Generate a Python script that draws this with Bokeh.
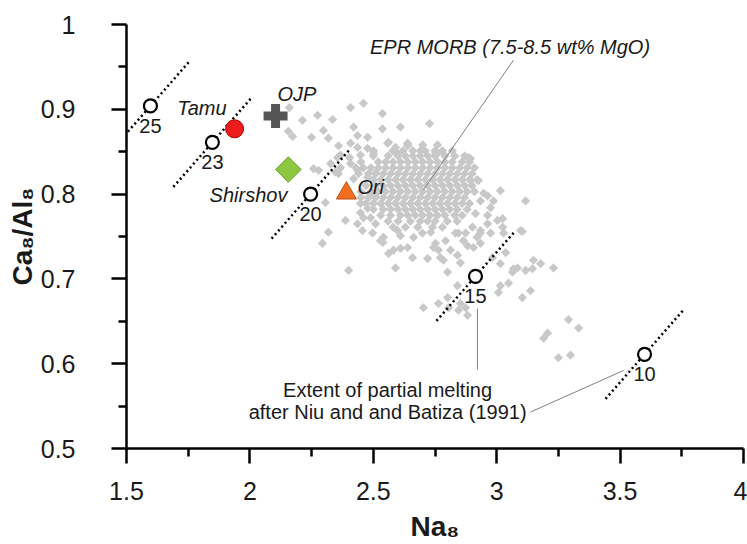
import numpy as np
from bokeh.plotting import figure
from bokeh.models import Range1d, FixedTicker, NumeralTickFormatter, Label
from bokeh.core.properties import value
from bokeh.embed import file_html
from bokeh.resources import INLINE

FONT = "Liberation Sans"

# ---------------- data ----------------
x_ticks = [1.5, 2.0, 2.5, 3.0, 3.5, 4.0]
x_minor = [1.75, 2.25, 2.75, 3.25, 3.75]
y_ticks = [0.5, 0.6, 0.7, 0.8, 0.9, 1.0]
y_minor = [0.55, 0.65, 0.75, 0.85, 0.95]

# EPR MORB cloud: dense core, row by row (Ca8/Al8 level, Na8 values)
core_y_levels = [0.858, 0.851, 0.845, 0.838, 0.831, 0.824, 0.817, 0.810, 0.803,
                 0.796, 0.789, 0.782, 0.775, 0.768, 0.761]
core_x_rows = [
    [2.64, 2.70, 2.76],
    [2.58, 2.62, 2.66, 2.69, 2.71, 2.75, 2.78, 2.82],
    [2.50, 2.56, 2.60, 2.63, 2.66, 2.69, 2.72, 2.75, 2.79, 2.83, 2.87],
    [2.45, 2.52, 2.55, 2.58, 2.61, 2.64, 2.67, 2.70, 2.73, 2.76, 2.79, 2.82, 2.86, 2.89],
    [2.43, 2.49, 2.52, 2.55, 2.58, 2.61, 2.64, 2.67, 2.70, 2.73, 2.76, 2.79, 2.82, 2.85, 2.88, 2.91],
    [2.44, 2.48, 2.51, 2.54, 2.57, 2.60, 2.63, 2.66, 2.69, 2.72, 2.75, 2.78, 2.81, 2.84, 2.87, 2.90],
    [2.50, 2.53, 2.56, 2.59, 2.62, 2.65, 2.68, 2.71, 2.74, 2.77, 2.80, 2.83, 2.86, 2.89, 2.92],
    [2.47, 2.51, 2.54, 2.57, 2.60, 2.63, 2.66, 2.69, 2.72, 2.75, 2.78, 2.81, 2.84, 2.87, 2.90],
    [2.45, 2.49, 2.52, 2.55, 2.58, 2.61, 2.64, 2.67, 2.70, 2.73, 2.76, 2.79, 2.82, 2.85, 2.88, 2.91],
    [2.45, 2.48, 2.51, 2.54, 2.57, 2.60, 2.63, 2.66, 2.69, 2.72, 2.75, 2.78, 2.81, 2.84, 2.87],
    [2.47, 2.50, 2.53, 2.56, 2.59, 2.62, 2.65, 2.68, 2.71, 2.74, 2.77, 2.80, 2.83, 2.86, 2.89],
    [2.50, 2.54, 2.57, 2.60, 2.63, 2.66, 2.69, 2.72, 2.75, 2.78, 2.81, 2.84, 2.88],
    [2.53, 2.57, 2.61, 2.64, 2.67, 2.70, 2.73, 2.76, 2.79, 2.83, 2.86],
    [2.56, 2.60, 2.65, 2.69, 2.72, 2.75, 2.80, 2.84],
    [2.58, 2.63, 2.68, 2.74, 2.78],
]

# EPR MORB cloud: scattered points around the core
sparse_x = [2.160, 2.213, 2.274, 2.335, 2.408, 2.460, 2.156, 2.173, 2.250, 2.298,
            2.318, 2.359, 2.420, 2.436, 2.477, 2.367, 2.404, 2.436, 2.448, 2.477,
            2.501, 2.258, 2.278, 2.327, 2.367, 2.408, 2.436, 2.460, 2.359, 2.420,
            2.477, 2.509, 2.537, 2.610, 2.728, 2.537, 2.562, 2.590, 2.639, 2.598,
            2.752, 2.886, 2.894, 2.926, 3.015, 3.117, 2.947, 2.975, 3.003, 3.024,
            3.097, 2.975, 2.914, 2.934, 2.845, 2.882, 2.841, 2.772, 2.744, 2.720,
            2.659, 2.610, 2.562, 2.590, 3.149, 3.084, 3.117, 3.230, 2.983, 3.015,
            2.541, 2.582, 2.639, 2.663, 2.784, 2.764, 2.752, 2.793, 2.813, 2.853,
            2.906, 2.934, 2.920, 2.963, 2.963, 2.801, 2.539, 2.598, 2.610, 2.699,
            2.733, 2.833, 2.874, 2.902, 2.934, 2.963, 2.934, 3.024, 3.028, 3.104,
            3.036, 3.068, 3.145, 3.178, 2.841, 2.764, 2.801, 2.853, 2.874, 2.882,
            2.845, 2.805, 2.703, 3.015, 3.048, 3.007, 3.064, 3.104, 3.137, 3.291,
            3.206, 3.190, 3.332, 3.250, 3.299, 2.306, 2.318, 2.294, 2.400, 2.387,
            2.436, 2.448, 2.477, 2.501, 2.489, 2.509, 2.501, 2.481, 2.448, 2.347,
            2.460, 2.456, 2.497, 2.529, 2.355, 2.408, 2.501, 2.558, 2.639, 2.760,
            2.894, 2.987, 2.865]
sparse_y = [0.902, 0.887, 0.893, 0.888, 0.902, 0.907, 0.874, 0.868, 0.867, 0.875,
            0.866, 0.857, 0.879, 0.869, 0.867, 0.846, 0.843, 0.855, 0.846, 0.854,
            0.848, 0.830, 0.828, 0.836, 0.831, 0.836, 0.828, 0.831, 0.824, 0.818,
            0.820, 0.825, 0.895, 0.879, 0.883, 0.877, 0.861, 0.855, 0.860, 0.848,
            0.848, 0.843, 0.816, 0.816, 0.804, 0.792, 0.801, 0.784, 0.769, 0.761,
            0.757, 0.754, 0.777, 0.754, 0.754, 0.739, 0.728, 0.725, 0.737, 0.724,
            0.725, 0.736, 0.730, 0.713, 0.722, 0.713, 0.710, 0.713, 0.725, 0.718,
            0.749, 0.734, 0.737, 0.749, 0.722, 0.734, 0.742, 0.745, 0.734, 0.719,
            0.737, 0.742, 0.749, 0.765, 0.775, 0.708, 0.743, 0.757, 0.751, 0.754,
            0.755, 0.754, 0.754, 0.761, 0.757, 0.798, 0.792, 0.771, 0.754, 0.756,
            0.731, 0.712, 0.712, 0.718, 0.692, 0.671, 0.678, 0.671, 0.666, 0.657,
            0.663, 0.666, 0.666, 0.692, 0.695, 0.684, 0.708, 0.678, 0.686, 0.652,
            0.636, 0.630, 0.642, 0.607, 0.610, 0.790, 0.755, 0.742, 0.710, 0.769,
            0.765, 0.778, 0.783, 0.789, 0.772, 0.765, 0.801, 0.796, 0.789, 0.826,
            0.772, 0.757, 0.754, 0.745, 0.843, 0.860, 0.851, 0.860, 0.857, 0.848,
            0.842, 0.792, 0.745]

# Extent of partial melting (Niu & Batiza 1991)
melt_labels = ["25", "23", "20", "15", "10"]
melt_x = [1.597, 1.848, 2.246, 2.914, 3.599]
melt_y = [0.904, 0.861, 0.800, 0.703, 0.611]
melt_half_dx = 0.158
melt_slope = 0.332

# Plateau samples
site_names = ["Tamu", "OJP", "Shirshov", "Ori"]
site_x = [1.938, 2.104, 2.156, 2.391]
site_y = [0.877, 0.892, 0.829, 0.801]

# ---------------- figure ----------------
p = figure(width=747, height=544, output_backend="svg", toolbar_location=None,
           x_range=Range1d(1.5, 4.0), y_range=Range1d(0.5, 1.0),
           min_border_left=126, min_border_right=4, min_border_top=24,
           min_border_bottom=96)
p.outline_line_color = None
p.grid.visible = False
p.background_fill_color = "white"
p.border_fill_color = "white"

xa = p.xaxis[0]
ya = p.yaxis[0]
xa.ticker = FixedTicker(ticks=x_ticks, minor_ticks=x_minor)
ya.ticker = FixedTicker(ticks=y_ticks, minor_ticks=y_minor)
xa.axis_label = "Na₈"
ya.axis_label = "Ca₈/Al₈"
for ax in (xa, ya):
    ax.formatter = NumeralTickFormatter(format="0.[0]")
    ax.axis_line_width = 2.5
    ax.axis_line_color = "black"
    ax.major_tick_line_width = 2.5
    ax.minor_tick_line_width = 2.5
    ax.major_tick_line_color = "black"
    ax.minor_tick_line_color = "black"
    ax.major_tick_in = 0
    ax.major_tick_out = 15
    ax.minor_tick_in = 0
    ax.minor_tick_out = 8
    ax.major_label_text_font = FONT
    ax.major_label_text_font_size = "25px"
    ax.major_label_text_color = "#1a1a1a"
    ax.axis_label_text_font = FONT
    ax.axis_label_text_font_size = "28px"
    ax.axis_label_text_font_style = "bold"
    ax.axis_label_text_color = "#1a1a1a"
xa.major_label_standoff = 18
ya.major_label_standoff = 36
xa.axis_label_standoff = 8
ya.axis_label_standoff = 0

# MORB cloud
morb_x = [x for row in core_x_rows for x in row] + sparse_x
morb_y = [y for y, row in zip(core_y_levels, core_x_rows) for _ in row] + sparse_y
p.scatter(morb_x, morb_y, marker="square", angle=np.pi / 4, size=6.5,
          fill_color="#c8c8c8", line_color=None)

# leader lines
p.segment(x0=[3.068, 2.922, 3.137], y0=[0.958, 0.665, 0.543],
          x1=[2.703, 2.922, 3.514], y1=[0.805, 0.593, 0.592],
          line_color="#808080", line_width=1)

# melting trend dotted lines
mx = np.array(melt_x)
my = np.array(melt_y)
p.segment(x0=mx - melt_half_dx, y0=my - melt_half_dx * melt_slope,
          x1=mx + melt_half_dx, y1=my + melt_half_dx * melt_slope,
          line_color="black", line_width=2.5, line_dash="2 3")
p.scatter(melt_x, melt_y, marker="circle", size=13, fill_color="white",
          line_color="black", line_width=2.2)
p.text(melt_x, melt_y, text=melt_labels, y_offset=20, text_align="center",
       text_baseline="alphabetic", text_font=value(FONT), text_font_size="20px",
       text_color="#1a1a1a")

# plateau samples
p.scatter([site_x[0]], [site_y[0]], marker="circle", size=18,
          fill_color="#ee1c1c", line_color="#b00000", line_width=1)
p.scatter([site_x[1]], [site_y[1]], marker="plus", size=24,
          fill_color="#555555", line_color=None)
p.scatter([site_x[2]], [site_y[2]], marker="square", angle=np.pi / 4, size=18,
          fill_color="#8dc63f", line_color="#6f9e30", line_width=1)
p.scatter([site_x[3]], [site_y[3]], marker="triangle", size=20,
          fill_color="#f26f21", line_color="#c0500f", line_width=1)

site_dx = [-8, 2, -1, 11]
site_dy = [21, 22, -25, 6]
site_align = ["right", "left", "right", "left"]
for name, x, y, dx, dy, al in zip(site_names, site_x, site_y, site_dx, site_dy, site_align):
    p.add_layout(Label(x=x, y=y, x_offset=dx, y_offset=dy, text=name,
                       text_align=al, text_baseline="alphabetic",
                       text_font=FONT, text_font_style="italic",
                       text_font_size="20px", text_color="#1a1a1a"))

p.add_layout(Label(x=3.054, y=0.966, y_offset=6, text="EPR MORB (7.5-8.5 wt% MgO)",
                   text_align="center", text_baseline="alphabetic",
                   text_font=FONT, text_font_style="italic",
                   text_font_size="20px", text_color="#1a1a1a"))
p.add_layout(Label(x=2.558, y=0.5626, y_offset=5, text="Extent of partial melting",
                   text_align="center", text_baseline="alphabetic",
                   text_font=FONT, text_font_size="20px", text_color="#1a1a1a"))
p.add_layout(Label(x=2.558, y=0.5366, y_offset=5, text="after Niu and and Batiza (1991)",
                   text_align="center", text_baseline="alphabetic",
                   text_font=FONT, text_font_size="20px", text_color="#1a1a1a"))

open("out.html", "w").write(file_html(p, INLINE))
